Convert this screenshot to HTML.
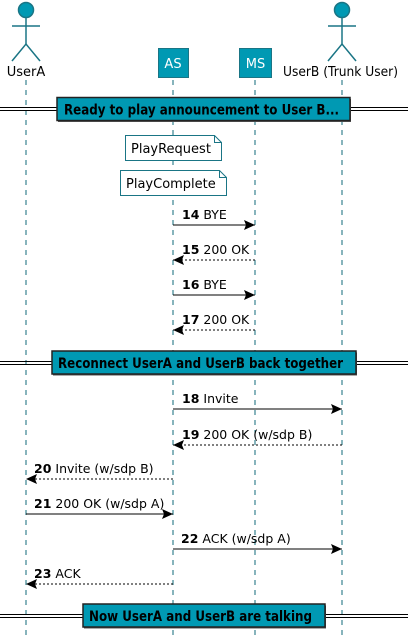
<!DOCTYPE html>
<html><head><meta charset="utf-8"><style>
html,body{margin:0;padding:0;background:#fff;}
svg{display:block;}
text{font-family:"DejaVu Sans","Liberation Sans",sans-serif;font-size:12.5px;fill:#000;}
.b{font-weight:bold;}
.t{font-weight:bold;font-size:14px;}
</style></head><body>
<svg width="408" height="639" viewBox="0 0 408 639" xmlns="http://www.w3.org/2000/svg">
<defs>
<marker id="ah" markerWidth="11" markerHeight="10" refX="11" refY="5" orient="auto" markerUnits="userSpaceOnUse"><path d="M0,0 L11,5 L0,10 L2,5 Z" fill="#000"/></marker>
</defs>
<g stroke="#0f6a78" stroke-width="1" stroke-dasharray="5,5">
<line x1="26" y1="80" x2="26" y2="639"/>
<line x1="173" y1="80" x2="173" y2="639"/>
<line x1="255" y1="80" x2="255" y2="639"/>
<line x1="342" y1="80" x2="342" y2="639"/>
</g>
<g stroke="#1a7585" stroke-width="1.5" fill="none">
<circle cx="26" cy="10" r="7.5" fill="#0099b3"/>
<line x1="26" y1="18" x2="26" y2="44"/><line x1="12" y1="26" x2="40" y2="26"/>
<path d="M12,61 L26,44 L40,61"/>
<circle cx="342" cy="10" r="7.5" fill="#0099b3"/>
<line x1="342" y1="18" x2="342" y2="44"/><line x1="328" y1="26" x2="356" y2="26"/>
<path d="M328,61 L342,44 L356,61"/>
</g>
<text x="26" y="76" text-anchor="middle" style="font-size:13px">UserA</text>
<text x="283" y="76" textLength="115" lengthAdjust="spacingAndGlyphs" style="font-size:13px">UserB (Trunk User)</text>
<rect x="158.5" y="48.5" width="30" height="29" fill="#0099b3" stroke="#1a7585"/>
<text x="173" y="68" text-anchor="middle" style="fill:#fff;font-size:13px">AS</text>
<rect x="239.5" y="48.5" width="32" height="29" fill="#0099b3" stroke="#1a7585"/>
<text x="255.5" y="68" text-anchor="middle" style="fill:#fff;font-size:13px">MS</text>
<g stroke="#000" stroke-width="1">
<line x1="0" y1="107.5" x2="408" y2="107.5"/><line x1="0" y1="110.5" x2="408" y2="110.5"/>
<line x1="0" y1="361.5" x2="408" y2="361.5"/><line x1="0" y1="364.5" x2="408" y2="364.5"/>
<line x1="0" y1="614.5" x2="408" y2="614.5"/><line x1="0" y1="617.5" x2="408" y2="617.5"/>
</g>
<rect x="58" y="99" width="293" height="23" fill="#555"/>
<rect x="57" y="97.5" width="293" height="23" fill="#0099b3" stroke="#222" stroke-width="1.5"/>
<text x="64" y="114.5" textLength="275" lengthAdjust="spacingAndGlyphs" class="t">Ready to play announcement to User B...</text>
<rect x="53" y="352.5" width="304" height="23" fill="#555"/>
<rect x="52" y="351" width="304" height="23" fill="#0099b3" stroke="#222" stroke-width="1.5"/>
<text x="58" y="368" textLength="285" lengthAdjust="spacingAndGlyphs" class="t">Reconnect UserA and UserB back together</text>
<rect x="84" y="605.5" width="242" height="23" fill="#555"/>
<rect x="83" y="604" width="242" height="23" fill="#0099b3" stroke="#222" stroke-width="1.5"/>
<text x="89" y="621" textLength="223" lengthAdjust="spacingAndGlyphs" class="t">Now UserA and UserB are talking</text>
<path d="M125.5,135.5 H214.5 L221.5,142.5 V160.5 H125.5 Z M214.5,135.5 V142.5 H221.5" fill="#fff" stroke="#1a7585"/>
<text x="131" y="153" style="font-size:13px">PlayRequest</text>
<path d="M120.5,170.5 H219.5 L226.5,177.5 V195.5 H120.5 Z M219.5,170.5 V177.5 H226.5" fill="#fff" stroke="#1a7585"/>
<text x="126" y="188" style="font-size:13px">PlayComplete</text>
<g stroke="#000" stroke-width="1">
<line x1="173" y1="225" x2="255" y2="225" marker-end="url(#ah)"/>
<line x1="255" y1="260" x2="173" y2="260" stroke-dasharray="2,2" marker-end="url(#ah)"/>
<line x1="173" y1="295" x2="255" y2="295" marker-end="url(#ah)"/>
<line x1="255" y1="330" x2="173" y2="330" stroke-dasharray="2,2" marker-end="url(#ah)"/>
<line x1="173" y1="409" x2="342" y2="409" marker-end="url(#ah)"/>
<line x1="342" y1="445" x2="173" y2="445" stroke-dasharray="2,2" marker-end="url(#ah)"/>
<line x1="173" y1="479" x2="26" y2="479" stroke-dasharray="2,2" marker-end="url(#ah)"/>
<line x1="26" y1="514" x2="173" y2="514" marker-end="url(#ah)"/>
<line x1="173" y1="549" x2="342" y2="549" marker-end="url(#ah)"/>
<line x1="173" y1="584" x2="26" y2="584" stroke-dasharray="2,2" marker-end="url(#ah)"/>
</g>
<text x="182" y="219"><tspan class="b">14</tspan> BYE</text>
<text x="182" y="254"><tspan class="b">15</tspan> 200 OK</text>
<text x="182" y="289"><tspan class="b">16</tspan> BYE</text>
<text x="182" y="324"><tspan class="b">17</tspan> 200 OK</text>
<text x="182" y="403"><tspan class="b">18</tspan> Invite</text>
<text x="182" y="439"><tspan class="b">19</tspan> 200 OK (w/sdp B)</text>
<text x="34" y="473"><tspan class="b">20</tspan> Invite (w/sdp B)</text>
<text x="34" y="508"><tspan class="b">21</tspan> 200 OK (w/sdp A)</text>
<text x="181" y="543"><tspan class="b">22</tspan> ACK (w/sdp A)</text>
<text x="34" y="578"><tspan class="b">23</tspan> ACK</text>
</svg>
</body></html>
